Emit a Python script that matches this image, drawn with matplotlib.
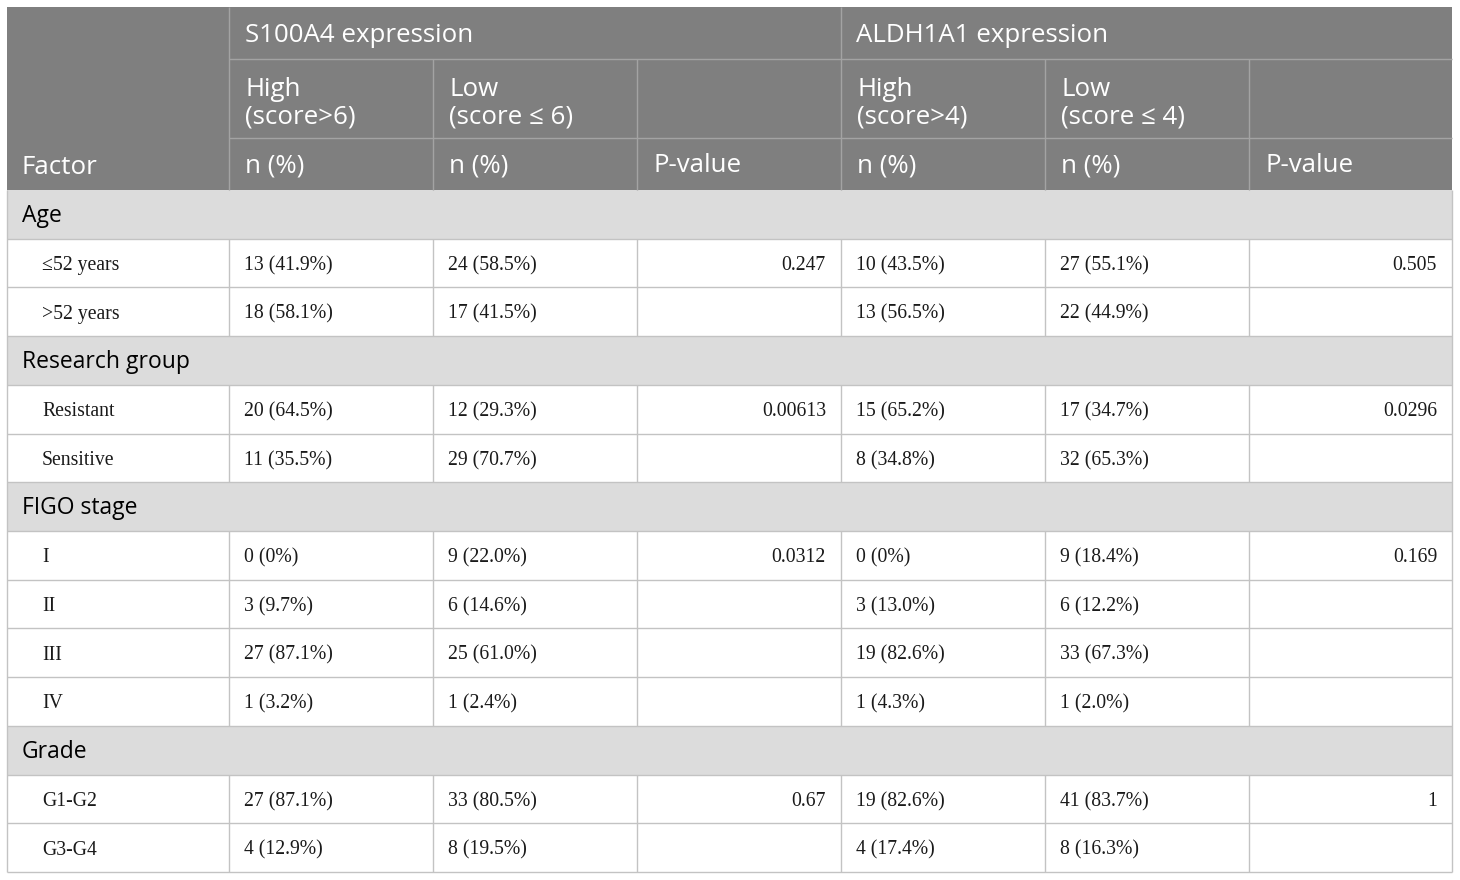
import matplotlib
matplotlib.use("Agg")
import matplotlib.pyplot as plt
from matplotlib.patches import Rectangle

# ---------------- data ----------------
group_titles = ["S100A4 expression", "ALDH1A1 expression"]
sub_titles = ["High\n(score>6)", "Low\n(score ≤ 6)", "", "High\n(score>4)", "Low\n(score ≤ 4)", ""]
unit_titles = ["n (%)", "n (%)", "P-value", "n (%)", "n (%)", "P-value"]
factor_title = "Factor"

sections = ["Age", "Research group", "FIGO stage", "Grade"]
levels = [
    ["≤52 years", ">52 years"],
    ["Resistant", "Sensitive"],
    ["I", "II", "III", "IV"],
    ["G1-G2", "G3-G4"],
]
s100_high = [
    ["13 (41.9%)", "18 (58.1%)"],
    ["20 (64.5%)", "11 (35.5%)"],
    ["0 (0%)", "3 (9.7%)", "27 (87.1%)", "1 (3.2%)"],
    ["27 (87.1%)", "4 (12.9%)"],
]
s100_low = [
    ["24 (58.5%)", "17 (41.5%)"],
    ["12 (29.3%)", "29 (70.7%)"],
    ["9 (22.0%)", "6 (14.6%)", "25 (61.0%)", "1 (2.4%)"],
    ["33 (80.5%)", "8 (19.5%)"],
]
s100_p = ["0.247", "0.00613", "0.0312", "0.67"]
aldh_high = [
    ["10 (43.5%)", "13 (56.5%)"],
    ["15 (65.2%)", "8 (34.8%)"],
    ["0 (0%)", "3 (13.0%)", "19 (82.6%)", "1 (4.3%)"],
    ["19 (82.6%)", "4 (17.4%)"],
]
aldh_low = [
    ["27 (55.1%)", "22 (44.9%)"],
    ["17 (34.7%)", "32 (65.3%)"],
    ["9 (18.4%)", "6 (12.2%)", "33 (67.3%)", "1 (2.0%)"],
    ["41 (83.7%)", "8 (16.3%)"],
]
aldh_p = ["0.505", "0.0296", "0.169", "1"]

# ---------------- layout ----------------
W, H = 1460, 880
col_x = [7, 229, 433, 637, 841, 1045, 1249, 1452]
hdr_y = [7, 59, 138, 190]
y_bottom = 872

HDR_BG = "#7f7f7f"
HDR_LINE = "#a3a3a3"
SEC_BG = "#dcdcdc"
LINE = "#c3c3c3"
SANS = ["Open Sans", "DejaVu Sans"]
SERIF = ["Liberation Serif", "DejaVu Serif"]
HDR_FS = 18.6
SEC_FS = 16.5
BODY_FS = 14.2

fig = plt.figure(figsize=(W / 100, H / 100), dpi=100)
ax = fig.add_axes([0, 0, 1, 1])
ax.set_xlim(0, W)
ax.set_ylim(H, 0)
ax.axis("off")

def hline(x0, x1, y, c, lw=1.0):
    ax.plot([x0, x1], [y, y], color=c, lw=lw, solid_capstyle="butt", zorder=3)

def vline(x, y0, y1, c, lw=1.0):
    ax.plot([x, x], [y0, y1], color=c, lw=lw, solid_capstyle="butt", zorder=3)

# header background
ax.add_patch(Rectangle((col_x[0], hdr_y[0]), col_x[-1] - col_x[0], hdr_y[3] - hdr_y[0],
                       facecolor=HDR_BG, edgecolor="none", zorder=1))
# header lines
hline(col_x[1], col_x[-1], hdr_y[1], HDR_LINE)
hline(col_x[1], col_x[-1], hdr_y[2], HDR_LINE)
vline(col_x[1], hdr_y[0], hdr_y[3], HDR_LINE)
vline(col_x[4], hdr_y[0], hdr_y[3], HDR_LINE)
for k in [2, 3, 5, 6]:
    vline(col_x[k], hdr_y[1], hdr_y[3], HDR_LINE)

pad = 15
ax.text(col_x[0] + pad, 168, factor_title, color="white", fontsize=HDR_FS, family=SANS,
        ha="left", va="center", zorder=4)
ax.text(col_x[1] + pad + 1, 35, group_titles[0], color="white", fontsize=HDR_FS, family=SANS,
        ha="left", va="center", zorder=4)
ax.text(col_x[4] + pad, 35, group_titles[1], color="white", fontsize=HDR_FS, family=SANS,
        ha="left", va="center", zorder=4)
for i, t in enumerate(sub_titles):
    if t:
        ax.text(col_x[i + 1] + pad + 1, 103, t, color="white", fontsize=HDR_FS, family=SANS,
                ha="left", va="center", linespacing=1.14, zorder=4)
for i, t in enumerate(unit_titles):
    ax.text(col_x[i + 1] + pad + 1, 166, t, color="white", fontsize=HDR_FS, family=SANS,
            ha="left", va="center", zorder=4)

# body rows
n_rows = sum(1 + len(l) for l in levels)
row_h = (y_bottom - hdr_y[3]) / n_rows
y = hdr_y[3]
for s, sec in enumerate(sections):
    ax.add_patch(Rectangle((col_x[0], y), col_x[-1] - col_x[0], row_h,
                           facecolor=SEC_BG, edgecolor="none", zorder=1))
    ax.text(col_x[0] + pad, y + row_h / 2 + 1.5, sec, color="black", fontsize=SEC_FS, family=SANS,
            ha="left", va="center", zorder=4)
    hline(col_x[0], col_x[-1], y + row_h, LINE)
    y += row_h
    for j, lev in enumerate(levels[s]):
        yc = y + row_h / 2 + 2.5
        ax.text(col_x[0] + 35, yc, lev, fontsize=BODY_FS, family=SERIF, ha="left", va="center",
                color="#1a1a1a", zorder=4)
        vals = [s100_high[s][j], s100_low[s][j], aldh_high[s][j], aldh_low[s][j]]
        cols = [1, 2, 4, 5]
        for v, c in zip(vals, cols):
            ax.text(col_x[c] + pad, yc, v, fontsize=BODY_FS, family=SERIF, ha="left",
                    va="center", color="#1a1a1a", zorder=4)
        if j == 0:
            ax.text(col_x[4] - pad, yc, s100_p[s], fontsize=BODY_FS, family=SERIF, ha="right",
                    va="center", color="#1a1a1a", zorder=4)
            ax.text(col_x[7] - pad, yc, aldh_p[s], fontsize=BODY_FS, family=SERIF, ha="right",
                    va="center", color="#1a1a1a", zorder=4)
        for k in range(1, 7):
            vline(col_x[k], y, y + row_h, LINE)
        hline(col_x[0], col_x[-1], y + row_h, LINE)
        y += row_h

# outer border of body
vline(col_x[0], hdr_y[3], y_bottom, LINE)
vline(col_x[-1], hdr_y[3], y_bottom, LINE)

fig.savefig("out.png", dpi=100)
